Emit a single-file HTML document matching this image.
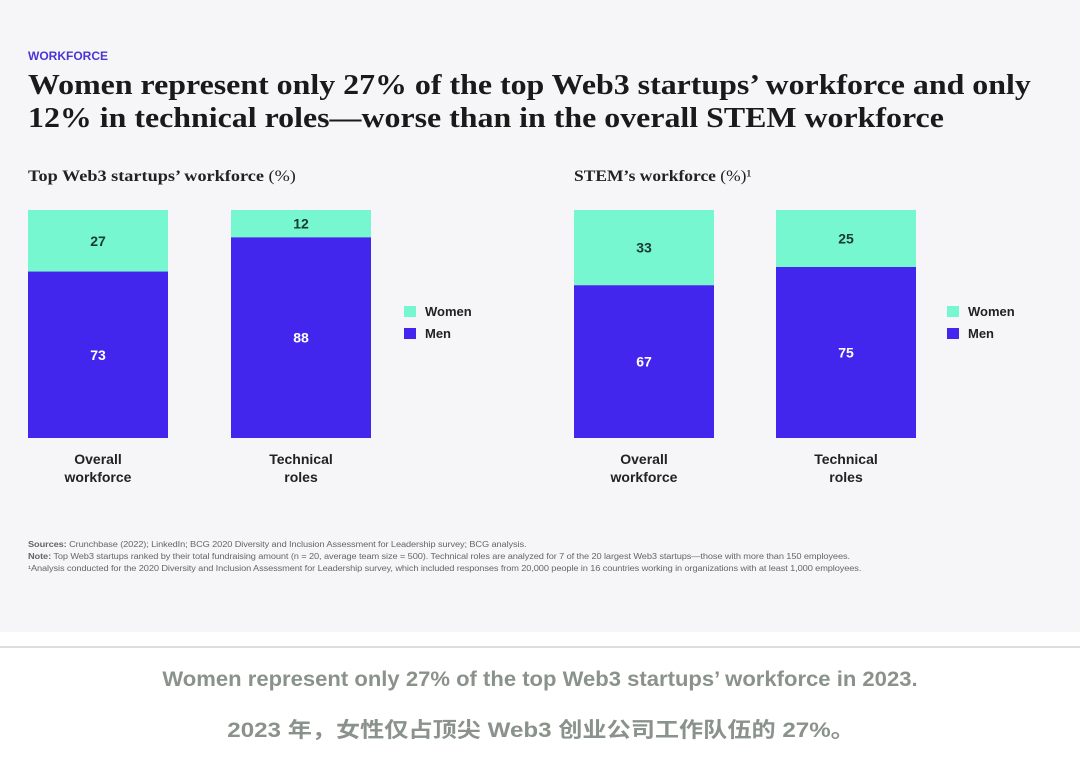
<!DOCTYPE html>
<html><head><meta charset="utf-8"><style>
body{margin:0;width:1080px;height:773px;background:#fff;overflow:hidden;font-family:"Liberation Sans",sans-serif;position:relative}
.panel{position:absolute;left:0;top:0;width:1080px;height:632px;background:#f6f6f8}
.abs{position:absolute;white-space:nowrap}
.note{font-size:8px;color:#666;line-height:12px;letter-spacing:-0.1px}
</style></head><body>
<div class="panel"></div>
<div class="abs" style="left:28px;top:49px;font-size:12px;font-weight:bold;color:#4a34d8">WORKFORCE</div>
<div class="abs" style="left:28px;top:69px;font-family:'Liberation Serif',serif;font-weight:bold;font-size:29px;line-height:33px;color:#1a1a1a;transform:scaleX(1.1);transform-origin:0 0">Women represent only 27% of the top Web3 startups’ workforce and only<br>12% in technical roles—worse than in the overall STEM workforce</div>
<div class="abs" style="left:28px;top:168px;font-family:'Liberation Serif',serif;font-weight:bold;font-size:16px;color:#222;transform:scaleX(1.14);transform-origin:0 0">Top Web3 startups’ workforce <span style="font-weight:normal">(%)</span></div>
<div class="abs" style="left:574px;top:168px;font-family:'Liberation Serif',serif;font-weight:bold;font-size:16px;color:#222;transform:scaleX(1.09);transform-origin:0 0">STEM’s workforce <span style="font-weight:normal">(%)¹</span></div>
<svg id="chart" class="abs" style="left:0;top:0" width="1080" height="632"></svg>
<div class="abs note" style="left:28px;top:539px;transform:scaleX(1.155);transform-origin:0 0"><b>Sources:</b> Crunchbase (2022); LinkedIn; BCG 2020 Diversity and Inclusion Assessment for Leadership survey; BCG analysis.<br><b>Note:</b> Top Web3 startups ranked by their total fundraising amount (n = 20, average team size = 500). Technical roles are analyzed for 7 of the 20 largest Web3 startups—those with more than 150 employees.<br>¹Analysis conducted for the 2020 Diversity and Inclusion Assessment for Leadership survey, which included responses from 20,000 people in 16 countries working in organizations with at least 1,000 employees.</div>
<div class="abs" style="left:0;top:646px;width:1080px;height:2px;background:#ddd"></div>
<div class="abs" style="left:0;top:668px;width:1080px;text-align:center;font-size:21px;font-weight:bold;color:#8a928c;transform:scaleX(1.05);transform-origin:540px 0">Women represent only 27% of the top Web3 startups’ workforce in 2023.</div>
<div class="abs" style="left:0;top:714px;width:1080px;text-align:center;font-size:21px;font-weight:bold;color:#8a928c;font-family:'Liberation Sans','Noto Sans CJK SC',sans-serif;transform:scaleX(1.15);transform-origin:533px 0">2023 年，女性仅占顶尖 Web3 创业公司工作队伍的 27%。</div>
<script>
const categories=["Overall\nworkforce","Technical\nroles","Overall\nworkforce","Technical\nroles"];
const women=[27,12,33,25];
const men=[73,88,67,75];
const barX=[28,231,574,776];
const NS="http://www.w3.org/2000/svg";
const svg=document.getElementById('chart');
const top0=210,H=228,W=140;
function add(tag,attrs,parent){const e=document.createElementNS(NS,tag);for(const k in attrs)e.setAttribute(k,attrs[k]);(parent||svg).appendChild(e);return e;}
for(let i=0;i<categories.length;i++){
  const tot=women[i]+men[i];
  const wH=H*women[i]/tot;
  const r1=add('rect',{x:barX[i],y:top0,width:W,height:wH,fill:'#76f7d0'});
  
  
  const r2=add('rect',{x:barX[i],y:top0+wH,width:W,height:H-wH,fill:'#4326ee'});
  
  
  const t1=add('text',{x:barX[i]+W/2,y:top0+wH/2+5,'text-anchor':'middle','font-size':14,'font-weight':'bold',fill:'#1a3a30','font-family':'Liberation Sans'});
  t1.textContent=women[i];
  
  
  const t2=add('text',{x:barX[i]+W/2,y:top0+wH+(H-wH)/2+5,'text-anchor':'middle','font-size':14,'font-weight':'bold',fill:'#fff','font-family':'Liberation Sans'});
  t2.textContent=men[i];
  
  
  const lines=categories[i].split('\n');
  lines.forEach((l,j)=>{
    const t=add('text',{x:barX[i]+W/2,y:464+j*18,'text-anchor':'middle','font-size':14,'font-weight':'bold',fill:'#222','font-family':'Liberation Sans'});
    t.textContent=l;
    
    
  });
}
[404,947].forEach(lx=>{
  [['Women','#76f7d0',311],['Men','#4326ee',333]].forEach(([n,c,ly])=>{
    const r=add('rect',{x:lx,y:ly-5,width:12,height:11,fill:c});
    
    
    const t=add('text',{x:lx+21,y:ly+5,'font-size':13,'font-weight':'bold',fill:'#222','font-family':'Liberation Sans'});
    t.textContent=n;
    
    
  });
});
</script>
</body></html>
